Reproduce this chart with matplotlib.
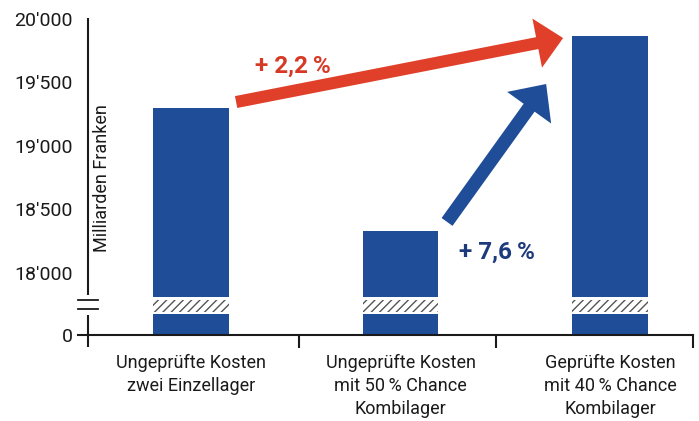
import matplotlib
matplotlib.use("Agg")
import matplotlib.pyplot as plt

plt.rcParams['font.family'] = ['Roboto', 'DejaVu Sans']

# data (Milliarden Franken)
categories = ["Ungeprüfte Kosten\nzwei Einzellager",
              "Ungeprüfte Kosten\nmit 50\u2009% Chance\nKombilager",
              "Geprüfte Kosten\nmit 40\u2009% Chance\nKombilager"]
values = [19299, 18331, 19866]
tick_values = [18000, 18500, 19000, 19500, 20000]
tick_labels = ["18'000", "18'500", "19'000", "19'500", "20'000"]
pct_labels = ["+ 2,2\u2009%", "+ 7,6\u2009%"]

# broken axis: "0" is drawn just below 18'000
zero_pos = 17512
upper_start = 17811
hatch_lo, hatch_hi = 17693, 17787
lower_top = 17677

bar_blue = '#1f4d97'
red = '#e0402a'
navy = '#1d3a7c'
ink = '#1a1a1a'

fig = plt.figure(figsize=(6.99, 4.21), dpi=100)
ax = fig.add_axes([0.1259, 0.1758, 0.8655, 0.7815])
ax.set_xlim(-0.492, 2.396)
ax.set_ylim(17417, 20008)

x = list(range(len(values)))
w = 0.36
ax.bar(x, [v - upper_start for v in values], bottom=upper_start, width=w, color=bar_blue, lw=0)
ax.bar(x, hatch_hi - hatch_lo, bottom=hatch_lo, width=w, color='white',
       edgecolor='#555555', hatch='////', lw=0)
ax.bar(x, lower_top - zero_pos, bottom=zero_pos, width=w, color=bar_blue, lw=0)

# axes lines
for s in ['top', 'right', 'left']:
    ax.spines[s].set_visible(False)
ax.spines['bottom'].set_position(('data', zero_pos))
ax.spines['bottom'].set_bounds(-0.54, 2.396)
ax.spines['bottom'].set_linewidth(1.5)
ax.spines['bottom'].set_color(ink)

x0 = -0.492
ax.plot([x0, x0], [17417, 17669], color=ink, lw=1.5, clip_on=False, solid_capstyle='butt')
ax.plot([x0, x0], [17827, 20008], color=ink, lw=1.5, clip_on=False, solid_capstyle='butt')
for yb in [17717, 17787]:
    ax.plot([x0 - 0.048, x0 + 0.048], [yb, yb], color=ink, lw=1.3, clip_on=False)

# ticks
ax.set_yticks([zero_pos] + tick_values, ['0'] + tick_labels)
ax.tick_params(axis='y', length=0, pad=11, labelsize=14, colors=ink)
ax.set_xticks([0.516, 1.456, 2.396], ['', '', ''])
ax.tick_params(axis='x', which='major', length=9.4, width=1.5, direction='out', color=ink)
ax.set_xticks(x, categories, minor=True)
ax.tick_params(axis='x', which='minor', length=0, pad=13.5, labelsize=13, colors=ink)
for t in ax.get_xticklabels(minor=True):
    t.set_linespacing(1.38)

ax.text(-0.425, 18748, "Milliarden Franken", rotation=90, ha='center', va='center',
        fontsize=13, color=ink)

# arrows
ax.annotate('', xy=(1.776, 19850), xytext=(0.215, 19346),
            arrowprops=dict(arrowstyle='simple,head_length=19,head_width=36,tail_width=8.7',
                            mutation_scale=1, color=red, lw=0, shrinkA=0, shrinkB=0))
ax.annotate('', xy=(1.695, 19488), xytext=(1.222, 18402),
            arrowprops=dict(arrowstyle='simple,head_length=21,head_width=39,tail_width=9.7',
                            mutation_scale=1, color=bar_blue, lw=0, shrinkA=0, shrinkB=0))

ax.text(0.487, 19630, pct_labels[0], ha='center', va='center', fontsize=17.5,
        fontweight='bold', color='#d63a26')
ax.text(1.461, 18165, pct_labels[1], ha='center', va='center', fontsize=17.5,
        fontweight='bold', color=navy)

fig.savefig('out.png', dpi=100)
